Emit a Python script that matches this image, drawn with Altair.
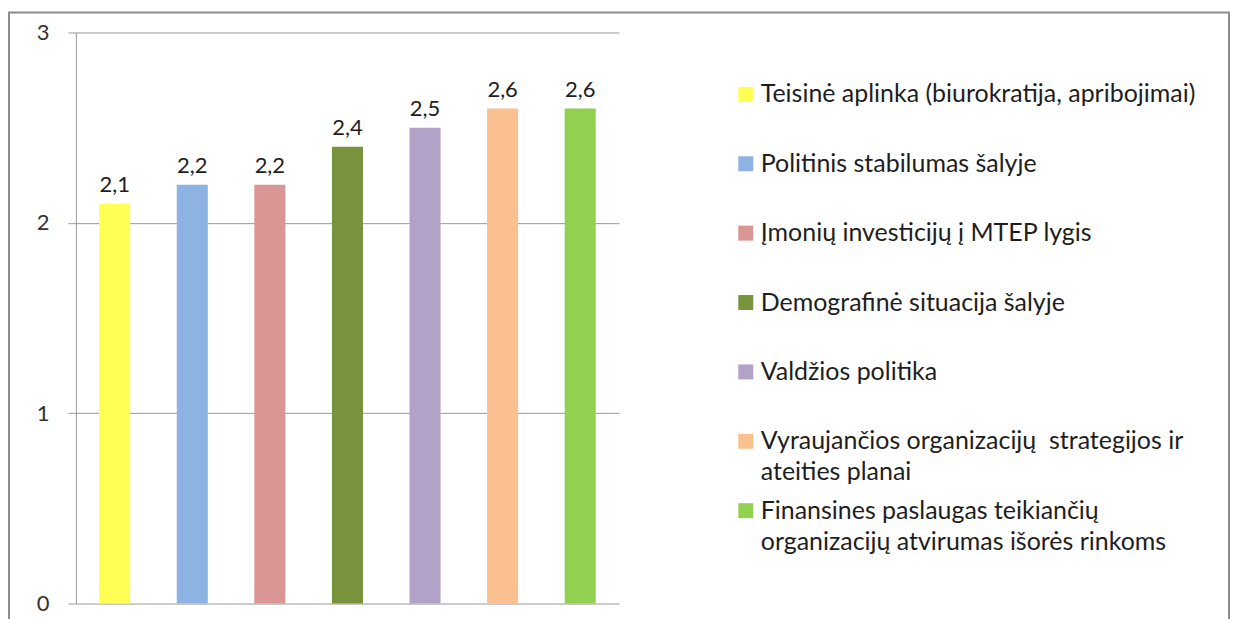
import altair as alt
import pandas as pd

categories = [
    "Teisinė aplinka (biurokratija, apribojimai)",
    "Politinis stabilumas šalyje",
    "Įmonių investicijų į MTEP lygis",
    "Demografinė situacija šalyje",
    "Valdžios politika",
    "Vyraujančios organizacijų strategijos ir ateities planai",
    "Finansines paslaugas teikiančių organizacijų atvirumas išorės rinkoms",
]
legend_labels = [
    "Teisinė aplinka (biurokratija, apribojimai)",
    "\u00a0Politinis stabilumas šalyje",
    "Įmonių investicijų į MTEP lygis",
    "Demografinė situacija šalyje",
    "Valdžios politika",
    "Vyraujančios organizacijų \u00a0strategijos ir|ateities planai",
    "Finansines paslaugas teikiančių|organizacijų atvirumas išorės rinkoms",
]
values = [2.1, 2.2, 2.2, 2.4, 2.5, 2.6, 2.6]
colors = ["#FFFF55", "#8DB3E2", "#D99694", "#77933C", "#B3A2C7", "#FAC08F", "#92D050"]
y_ticks = [0, 1, 2, 3]

df = pd.DataFrame({"cat": categories, "value": values, "legend": legend_labels})

FONT = "Lato"
color_scale = alt.Scale(domain=categories, range=colors)
x_enc = alt.X("cat:N", sort=categories,
              scale=alt.Scale(paddingInner=0.6, paddingOuter=0.3), axis=None)
y_scale = alt.Scale(domain=[0, 3], nice=False)

bars = alt.Chart(df).mark_bar().encode(
    x=x_enc,
    y=alt.Y("value:Q", scale=y_scale,
            axis=alt.Axis(values=y_ticks, title=None, grid=True, format="d")),
    color=alt.Color("cat:N", scale=color_scale, legend=None),
)

labels = alt.Chart(df).transform_calculate(
    lbl="replace(format(datum.value, '.1f'), '.', ',')"
).mark_text(baseline="alphabetic", dy=-12, fontSize=22, font=FONT, color="#1e1e1e").encode(
    x=x_enc,
    y=alt.Y("value:Q", scale=y_scale),
    text="lbl:N",
)

frame = alt.Chart(alt.Data(values=[{}])).mark_rect(
    fillOpacity=0, stroke="#8c8c8c", strokeWidth=2
).encode(
    x=alt.value(-67), x2=alt.value(1155), y=alt.value(-20), y2=alt.value(640)
)

main = alt.layer(frame, bars, labels)

leg_y = alt.Y("cat:N", sort=categories,
              scale=alt.Scale(type="point", range=[62, 479], padding=0), axis=None)
leg_sq = alt.Chart(df).mark_square(size=225, opacity=1).encode(
    x=alt.value(671), y=leg_y,
    color=alt.Color("cat:N", scale=color_scale, legend=None),
)
leg_tx = alt.Chart(df).mark_text(
    align="left", baseline="alphabetic", dy=8, lineBreak="|", lineHeight=31,
    fontSize=25, font=FONT, color="#1e1e1e"
).encode(x=alt.value(686), y=leg_y, text="legend:N")
legend = alt.layer(leg_sq, leg_tx)

chart = alt.layer(main, legend).resolve_scale(y="independent").properties(
    width=544, height=572,
    autosize=alt.AutoSizeParams(type="none"),
    padding={"left": 68, "top": 24, "right": 612, "bottom": 40},
).configure_view(stroke=None).configure_axis(
    domainColor="#999999", tickColor="#999999", gridColor="#999999",
    tickSize=8, labelFontSize=22, labelFont=FONT, labelColor="#333333",
    labelPadding=19, domainWidth=1, gridWidth=1,
)

chart.save("out.html", embed_options={"renderer": "svg", "actions": False})
